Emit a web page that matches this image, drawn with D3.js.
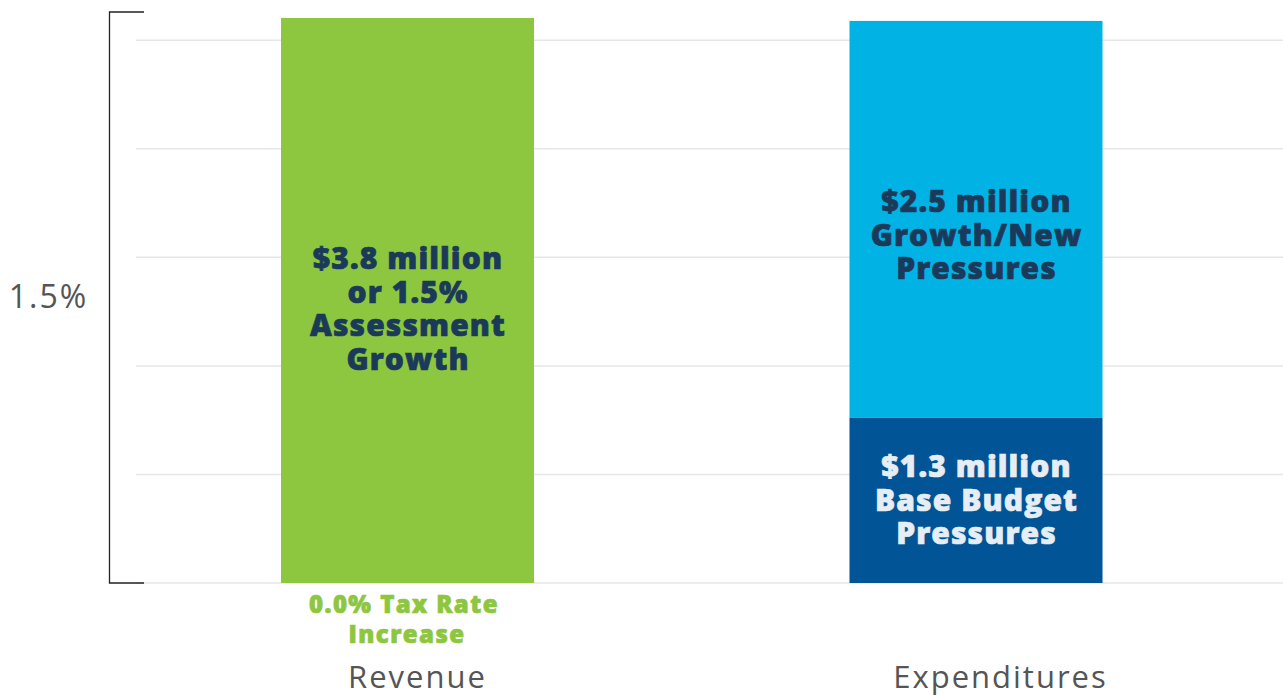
<!DOCTYPE html>
<html>
<head>
<meta charset="utf-8">
<script src="https://cdn.jsdelivr.net/npm/d3@7"></script>
<style>
  body { margin: 0; background: #fff; }
  svg { display: block; }
  .lbl { font-family: "Open Sans", Lato, sans-serif; font-weight: 800; letter-spacing: 1.1px; stroke-width: 0.7px; paint-order: stroke; }
  .reg { font-family: "Open Sans", Lato, sans-serif; font-weight: 400; letter-spacing: 2px; }
</style>
</head>
<body>
<div id="chart"></div>
<script>
// categories along the x axis
const categories = ['Revenue', 'Expenditures'];

// stacked segments in $ millions, heights
const revenueValues = [3.8];
const expenditureValues = [1.11, 2.67];   // base budget, growth/new

// label text for each segment
const revenueLabels = [['$3.8 million', 'or 1.5%', 'Assessment', 'Growth']];
const expenditureLabels = [
  ['$1.3 million', 'Base Budget', 'Pressures'],
  ['$2.5 million', 'Growth/New', 'Pressures']
];
const noteLines = ['0.0% Tax Rate', 'Increase'];

// gridline positions (same units)
const gridTicks = [0, 0.73, 1.46, 2.19, 2.92, 3.65];
const yMax = 3.84;
const bracketLabel = '1.5%';

const width = 1283, height = 695;
const svg = d3.select('#chart').append('svg')
  .attr('width', width)
  .attr('height', height);

const y = d3.scaleLinear().domain([0, yMax]).range([583, 12]);
const x = d3.scalePoint().domain(categories).range([407.5, 976]);
const barW = 253;

// gridlines
svg.append('g')
  .selectAll('line')
  .data(gridTicks)
  .join('line')
  .attr('x1', 136).attr('x2', width)
  .attr('y1', d => y(d)).attr('y2', d => y(d))
  .attr('stroke', '#e6e6e6')
  .attr('stroke-width', 1.5);

// bracket on the left
svg.append('path')
  .attr('fill', 'none')
  .attr('d', `M144,${y(yMax)}H109.5V${y(0)}H144`)
  .attr('stroke', '#222')
  .attr('stroke-width', 1.3);
svg.append('text')
  .attr('class', 'reg')
  .attr('x', 48.5).attr('y', y(yMax / 2) + 10)
  .attr('text-anchor', 'middle')
  .attr('font-size', 32)
  .attr('fill', '#555')
  .text(bracketLabel);

// build stacked segments
function stackSegs(cat, vals, colors, labels, textColors) {
  let base = 0;
  return vals.map((v, i) => {
    const seg = { cat, y0: base, y1: base + v, color: colors[i], lines: labels[i], tcol: textColors[i] };
    base += v;
    return seg;
  });
}
const segs = [
  ...stackSegs('Revenue', revenueValues, ['#8dc63f'], revenueLabels, ['#1b3a5a']),
  ...stackSegs('Expenditures', expenditureValues, ['#015596', '#00b3e4'], expenditureLabels, ['#e6edf4', '#1b3a5a'])
];

svg.append('g')
  .selectAll('rect')
  .data(segs)
  .join('rect')
  .attr('x', d => x(d.cat) - barW / 2)
  .attr('width', barW)
  .attr('y', d => y(d.y1))
  .attr('height', d => y(d.y0) - y(d.y1))
  .attr('fill', d => d.color);

// segment labels
const lineH = 33.5;
segs.forEach(d => {
  const cy = d.cat === 'Revenue' ? 309 : (d.y0 === 0 ? 500 : 235);
  const n = d.lines.length;
  svg.append('text')
    .attr('class', 'lbl')
    .attr('text-anchor', 'middle')
    .attr('font-size', 30)
    .attr('fill', d.tcol)
    .attr('stroke', d.tcol)
    .selectAll('tspan')
    .data(d.lines)
    .join('tspan')
    .attr('x', x(d.cat) + 0.5)
    .attr('y', (t, i) => cy + (i - (n - 1) / 2) * lineH + 10.5)
    .text(t => t);
});

// green note under revenue bar
svg.append('text')
  .attr('class', 'lbl')
  .attr('text-anchor', 'middle')
  .attr('font-size', 24)
  .style('letter-spacing', '1.4px')
  .attr('fill', '#8dc63f')
  .attr('stroke', '#8dc63f')
  .selectAll('tspan')
  .data(noteLines)
  .join('tspan')
  .attr('x', (t, i) => i === 0 ? 404 : 407)
  .attr('y', (t, i) => 613 + i * 30)
  .text(t => t);

// category labels
svg.append('g')
  .selectAll('text')
  .data(categories)
  .join('text')
  .attr('class', 'reg')
  .attr('x', d => x(d) + (d === 'Revenue' ? 10 : 24.5))
  .attr('y', 688)
  .attr('text-anchor', 'middle')
  .attr('font-size', 31)
  .attr('fill', '#555')
  .text(d => d);
</script>
</body>
</html>
